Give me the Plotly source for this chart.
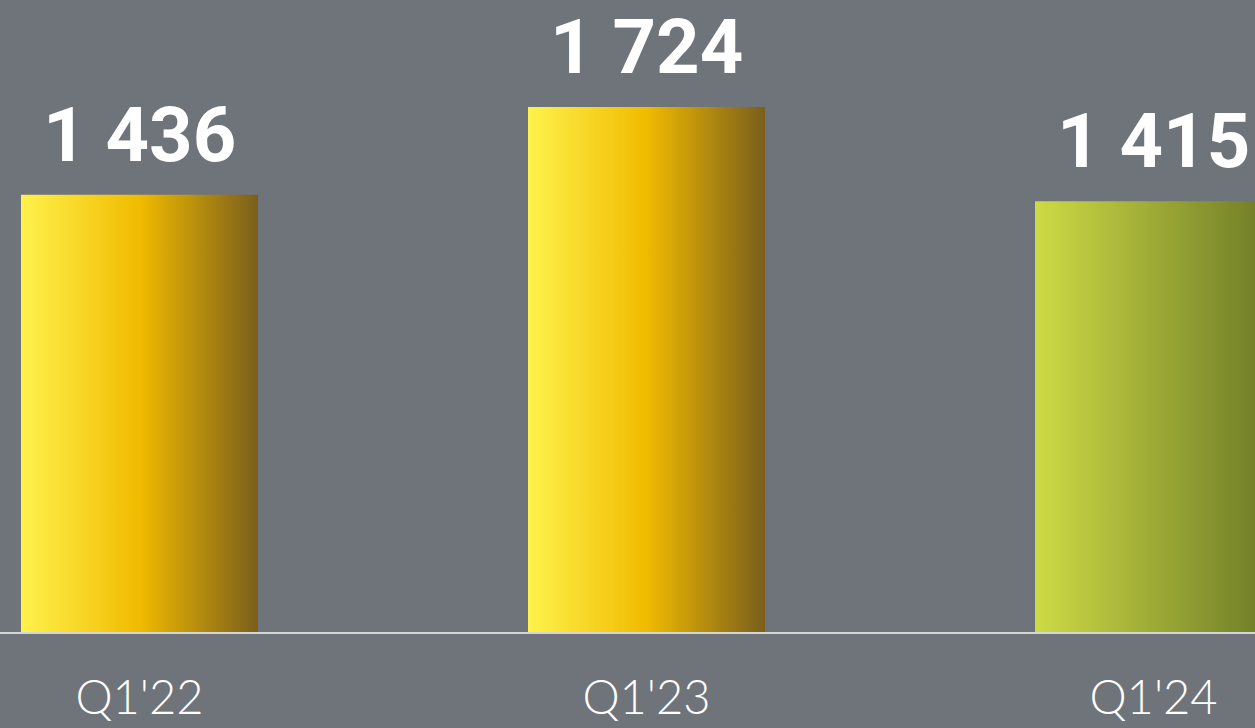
import plotly.graph_objects as go

# data
quarters = ["Q1'22", "Q1'23", "Q1'24"]
values = [1436, 1724, 1415]
value_labels = ["1 436", "1 724", "1 415"]
bar_scales = [
    [[0, "#fff24c"], [0.5, "#f0bb00"], [1, "#7a5e1c"]],
    [[0, "#fff24c"], [0.5, "#f0bb00"], [1, "#7a5e1c"]],
    [[0, "#cedb45"], [1, "#6d7a27"]],
]

half_w = 0.2337
bg = "#6f737a"

fig = go.Figure()

for i, (q, v, cs) in enumerate(zip(quarters, values, bar_scales)):
    # each bar is a filled polygon so it can carry a horizontal gradient
    fig.add_trace(go.Scatter(
        x=[i - half_w, i + half_w, i + half_w, i - half_w, i - half_w],
        y=[0, 0, v, v, 0],
        mode="lines",
        line=dict(width=0),
        fill="toself",
        fillgradient=dict(type="horizontal", colorscale=cs),
        hoverinfo="skip",
        showlegend=False,
    ))

    fig.add_annotation(
        x=i, y=v, text=value_labels[i],
        showarrow=False, yanchor="bottom", yshift=13,
        font=dict(family="Roboto", size=76, color="white", weight="bold"),
    )

fig.update_layout(
    width=1255, height=728,
    margin=dict(l=0, r=0, t=0, b=96),
    paper_bgcolor=bg,
    plot_bgcolor=bg,
    xaxis=dict(
        range=[-0.2751, 2.2002],
        tickvals=list(range(len(quarters))),
        ticktext=quarters,
        tickfont=dict(family="Lato", size=47, color="white", weight=300),
        showgrid=False, zeroline=False, automargin=False,
        showline=True, linecolor="#d6d6d6", linewidth=2,
        ticks="", ticklabelstandoff=24,
    ),
    yaxis=dict(
        range=[0, 2075.5],
        visible=False, automargin=False,
        showgrid=False, zeroline=False,
    ),
)

fig.write_html(
    "out.html",
    config={"displayModeBar": False},
    post_script="document.body.style.margin='0';document.body.style.overflow='hidden';",
)
